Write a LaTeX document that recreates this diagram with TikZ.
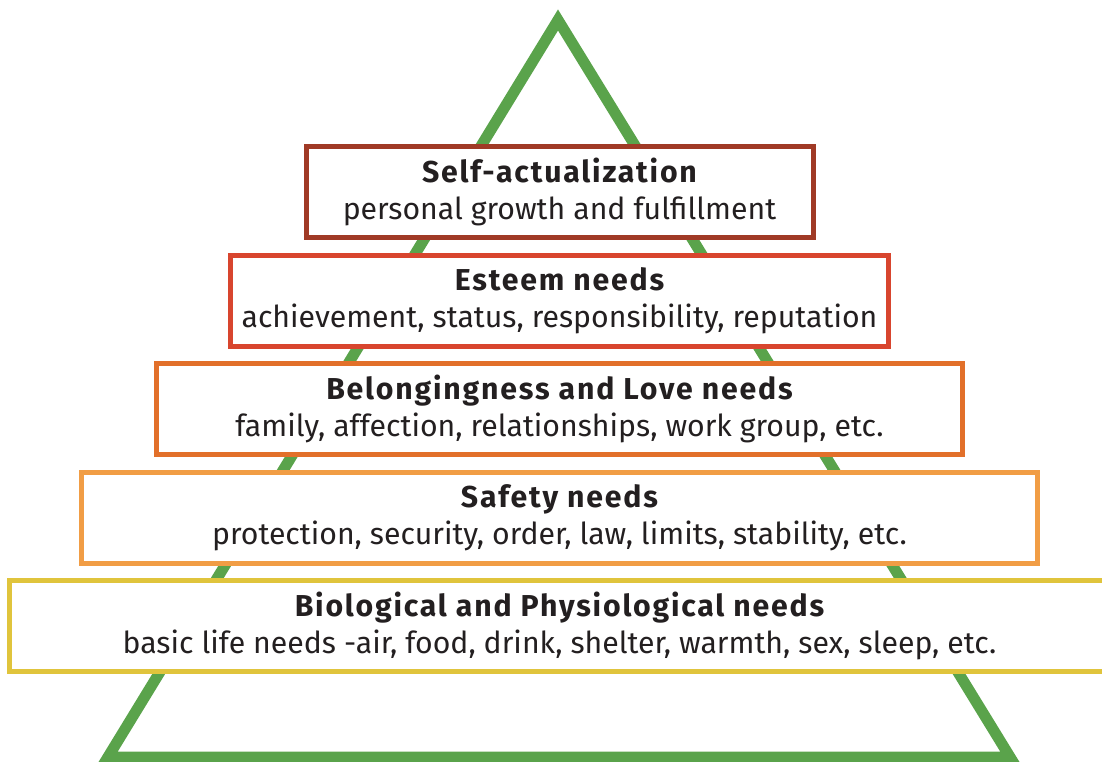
\documentclass[tikz,border=0pt]{standalone}
\usepackage{fontspec}
\setmainfont{Fira Sans}
\usepackage{tikz}
\usetikzlibrary{positioning}

\definecolor{pyrgreen}{HTML}{5AA34B}
\definecolor{selfcol}{HTML}{A03A26}
\definecolor{esteemcol}{HTML}{D8452E}
\definecolor{lovecol}{HTML}{E2702A}
\definecolor{safecol}{HTML}{F19D45}
\definecolor{biocol}{HTML}{E0C43C}
\definecolor{textcol}{HTML}{231F20}

\newcommand{\needtitle}[1]{{\bfseries\addfontfeature{LetterSpace=6}#1}}

\begin{document}
\begin{tikzpicture}[level/.style={draw=#1, line width=0.5mm, fill=white, minimum height=0.91cm, align=center, text=textcol, font=\fontsize{8.6pt}{10.4pt}\selectfont, inner sep=0pt}]
        \useasboundingbox (0,0) rectangle (11.02,-7.62);
        % pyramid outline
        \coordinate (top) at (5.58,-0.20);
        \coordinate (bl) at (1.08,-7.57);
        \coordinate (br) at (10.10,-7.57);
        \draw[pyrgreen, line width=1.1mm] (top) -- (br) -- (bl) -- cycle;
        
        \node[level=selfcol, minimum width=5.07cm] (self) at (5.595,-1.92) {\needtitle{Self-actualization}\\personal growth and fulfillment};
        \node[level=esteemcol, minimum width=6.58cm, below=0.125cm of self] (esteem) {\needtitle{Esteem needs}\\achievement, status, responsibility, reputation};
        \node[level=lovecol, minimum width=8.06cm, below=0.125cm of esteem] (love) {\needtitle{Belongingness and Love needs}\\family, affection, relationships, work group, etc.};
        \node[level=safecol, minimum width=9.56cm, below=0.125cm of love] (safe) {\needtitle{Safety needs}\\protection, security, order, law, limits, stability, etc.};
        \node[level=biocol, minimum width=11.01cm, below=0.125cm of safe] (bio) {\needtitle{Biological and Physiological needs}\\basic life needs -air, food, drink, shelter, warmth, sex, sleep, etc.};
        
    \end{tikzpicture}
\end{document}
